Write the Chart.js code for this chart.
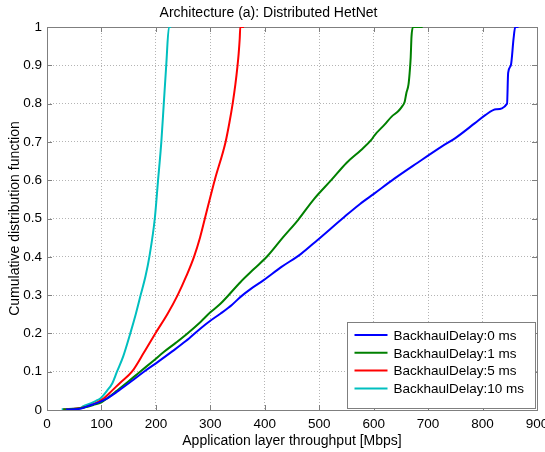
<!DOCTYPE html>
<html>
<head>
<meta charset="utf-8">
<script src="https://cdn.jsdelivr.net/npm/chart.js@4"></script>
<style>
  body { margin: 0; background: #fff; }
  canvas { display: block; }
</style>
</head>
<body>
<canvas id="cdfChart" width="545" height="452"></canvas>
<script>
// Series data (throughput in Mbps, CDF value)
const delay0Mbps = [35, 60, 75, 95, 110, 131, 155, 178, 205, 230, 255, 282, 300, 319, 340, 356, 375, 398, 430, 466, 497, 546, 575, 601, 638, 680, 724, 750, 786, 805, 825, 845, 847, 852, 857, 860, 866];
const delay0Cdf = [0.001, 0.003, 0.01, 0.02, 0.03, 0.05, 0.075, 0.1, 0.127, 0.153, 0.18, 0.213, 0.233, 0.252, 0.275, 0.296, 0.317, 0.339, 0.373, 0.407, 0.444, 0.504, 0.538, 0.565, 0.604, 0.645, 0.687, 0.71, 0.749, 0.77, 0.785, 0.8, 0.88, 0.9, 0.97, 1.0, 1.0];

const delay1Mbps = [30, 55, 70, 85, 100, 110, 128, 150, 171, 195, 215, 237, 258, 282, 300, 319, 356, 380, 405, 433, 461, 490, 522, 550, 577, 596, 602, 620, 633, 645, 652, 657, 660, 664, 666, 668, 669.5, 672.5, 690];
const delay1Cdf = [0.001, 0.003, 0.007, 0.013, 0.02, 0.03, 0.05, 0.075, 0.1, 0.128, 0.152, 0.176, 0.2, 0.23, 0.255, 0.278, 0.335, 0.368, 0.402, 0.45, 0.496, 0.55, 0.6, 0.645, 0.679, 0.706, 0.718, 0.745, 0.766, 0.78, 0.792, 0.805, 0.827, 0.85, 0.879, 0.92, 0.975, 1.0, 1.0];

const delay5Mbps = [30, 50, 65, 80, 95, 104, 119, 135, 156, 178, 199, 221, 240, 256, 270, 281, 290, 308, 328, 335, 341, 346, 350, 352, 354, 355, 362];
const delay5Cdf = [0.001, 0.003, 0.006, 0.012, 0.022, 0.03, 0.05, 0.072, 0.1, 0.15, 0.2, 0.25, 0.3, 0.35, 0.4, 0.45, 0.5, 0.6, 0.7, 0.75, 0.8, 0.85, 0.9, 0.93, 0.97, 1.0, 1.0];

const delay10Mbps = [27, 45, 60, 67, 80, 90, 98, 110, 120, 128.5, 140, 153, 163, 172, 181, 188, 198, 204, 210, 214.5, 219, 224, 228];
const delay10Cdf = [0.002, 0.003, 0.005, 0.01, 0.017, 0.024, 0.03, 0.05, 0.07, 0.1, 0.14, 0.2, 0.25, 0.3, 0.35, 0.4, 0.5, 0.6, 0.7, 0.8, 0.9, 1.0, 1.0];

const seriesLabels = ['BackhaulDelay:0 ms', 'BackhaulDelay:1 ms', 'BackhaulDelay:5 ms', 'BackhaulDelay:10 ms'];
const seriesColors = ['#0000ff', '#008000', '#ff0000', '#00bfbf'];

const xTickValues = [0, 100, 200, 300, 400, 500, 600, 700, 800, 900];
const yTickValues = [0, 0.1, 0.2, 0.3, 0.4, 0.5, 0.6, 0.7, 0.8, 0.9, 1];
const yTickLabels = ['0', '0.1', '0.2', '0.3', '0.4', '0.5', '0.6', '0.7', '0.8', '0.9', '1'];

const FONT = 'Liberation Sans, Arial, Helvetica, sans-serif';

function toPoints(xs, ys) {
    return xs.map((x, i) => ({ x: x, y: ys[i] }));
}

// Box around the axes with inward tick marks
const framePlugin = {
    id: 'frame',
    beforeDatasetsDraw(chart) {
        const { ctx, chartArea: a, scales } = chart;
        ctx.save();
        ctx.strokeStyle = '#7f7f7f';
        ctx.lineWidth = 1;
        ctx.strokeRect(Math.round(a.left) + 0.5, Math.round(a.top) + 0.5,
            Math.round(a.right - a.left), Math.round(a.bottom - a.top));
        ctx.beginPath();
        xTickValues.forEach(v => {
            const px = Math.round(scales.x.getPixelForValue(v)) + 0.5;
            ctx.moveTo(px, a.bottom); ctx.lineTo(px, a.bottom - 5);
            ctx.moveTo(px, a.top); ctx.lineTo(px, a.top + 5);
        });
        yTickValues.forEach(v => {
            const py = Math.round(scales.y.getPixelForValue(v)) + 0.5;
            ctx.moveTo(a.left, py); ctx.lineTo(a.left + 5, py);
            ctx.moveTo(a.right, py); ctx.lineTo(a.right - 5, py);
        });
        ctx.stroke();
        ctx.restore();
    },
    afterDraw(chart) {
        // legend inside the lower right corner
        const { ctx, chartArea: a } = chart;
        const w = 188, h = 86;
        const left = Math.round(a.right) - w - 1.5;
        const top = Math.round(a.bottom) - h - 1.5;
        ctx.save();
        ctx.fillStyle = '#ffffff';
        ctx.fillRect(left, top, w, h);
        ctx.strokeStyle = '#7f7f7f';
        ctx.lineWidth = 1;
        ctx.strokeRect(left, top, w, h);
        ctx.font = '13.5px ' + FONT;
        ctx.textBaseline = 'middle';
        chart.data.datasets.forEach((ds, i) => {
            const y = top + 12.5 + i * 17.8;
            ctx.strokeStyle = ds.borderColor;
            ctx.lineWidth = 2;
            ctx.beginPath();
            ctx.moveTo(left + 7, y);
            ctx.lineTo(left + 40, y);
            ctx.stroke();
            ctx.fillStyle = '#000';
            ctx.fillText(ds.label, left + 46, y + 1);
        });
        ctx.restore();
    }
};

function initChart() {
    const ctx = document.getElementById('cdfChart').getContext('2d');
    const series = [
        [delay0Mbps, delay0Cdf],
        [delay1Mbps, delay1Cdf],
        [delay5Mbps, delay5Cdf],
        [delay10Mbps, delay10Cdf]
    ];

    new Chart(ctx, {
        type: 'scatter',
        data: {
            datasets: series.map((s, i) => ({
                label: seriesLabels[i],
                data: toPoints(s[0], s[1]),
                showLine: true,
                borderColor: seriesColors[i],
                backgroundColor: seriesColors[i],
                borderWidth: 2,
                pointRadius: 0,
                cubicInterpolationMode: 'monotone'
            }))
        },
        options: {
            responsive: false,
            animation: false,
            layout: { padding: { right: 8, bottom: 0, left: 0, top: 0 } },
            plugins: {
                legend: { display: false },
                tooltip: { enabled: false },
                title: {
                    display: true,
                    text: 'Architecture (a): Distributed HetNet',
                    color: '#000',
                    font: { family: FONT, size: 14, weight: 'normal' },
                    padding: { top: 4.5, bottom: 5.7 }
                }
            },
            scales: {
                x: {
                    type: 'linear',
                    min: 0,
                    max: 900,
                    afterBuildTicks: scale => { scale.ticks = xTickValues.map(v => ({ value: v })); },
                    afterFit: scale => { scale.height = 42; scale.paddingRight = 0; scale.paddingLeft = 0; },
                    grid: { color: '#b4b4b4', drawTicks: false },
                    border: { display: false, dash: [1, 2] },
                    ticks: {
                        color: '#000',
                        padding: 6,
                        maxRotation: 0,
                        font: { family: FONT, size: 13.5 }
                    },
                    title: {
                        display: true,
                        text: 'Application layer throughput [Mbps]',
                        color: '#000',
                        font: { family: FONT, size: 14 },
                        padding: { top: 0, bottom: 2 }
                    }
                },
                y: {
                    type: 'linear',
                    min: 0,
                    max: 1,
                    afterBuildTicks: scale => { scale.ticks = yTickValues.map(v => ({ value: v })); },
                    afterFit: scale => { scale.width = 47; },
                    grid: { color: '#b4b4b4', drawTicks: false },
                    border: { display: false, dash: [1, 2] },
                    ticks: {
                        color: '#000',
                        padding: 5,
                        font: { family: FONT, size: 13.5 },
                        callback: (v, i) => yTickLabels[i]
                    },
                    title: {
                        display: true,
                        text: 'Cumulative distribution function',
                        color: '#000',
                        font: { family: FONT, size: 14 },
                        padding: { top: 7, bottom: 0 }
                    }
                }
            }
        },
        plugins: [framePlugin]
    });
}

document.addEventListener('DOMContentLoaded', initChart);
</script>
</body>
</html>
